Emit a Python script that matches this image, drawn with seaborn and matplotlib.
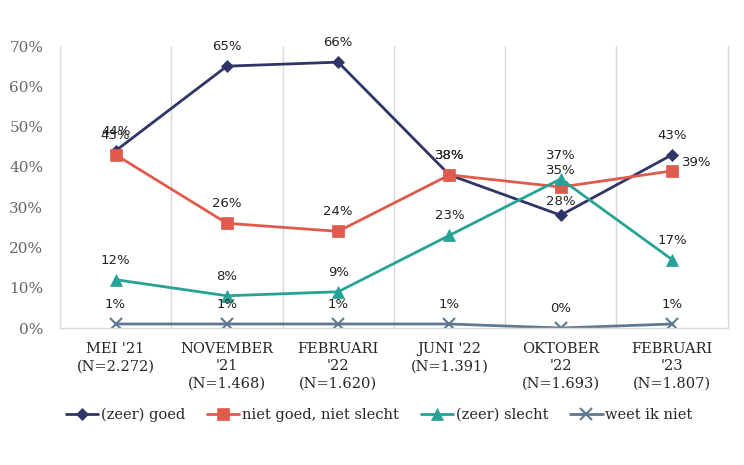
import pandas as pd
import matplotlib.pyplot as plt
import seaborn as sns

# waves of the survey
categories = ["MEI '21\n(N=2.272)", "NOVEMBER\n'21\n(N=1.468)", "FEBRUARI\n'22\n(N=1.620)",
              "JUNI '22\n(N=1.391)", "OKTOBER\n'22\n(N=1.693)", "FEBRUARI\n'23\n(N=1.807)"]
series_names = ["(zeer) goed", "niet goed, niet slecht", "(zeer) slecht", "weet ik niet"]
goed = [44, 65, 66, 38, 28, 43]
niet = [43, 26, 24, 38, 35, 39]
slecht = [12, 8, 9, 23, 37, 17]
weet = [1, 1, 1, 1, 0, 1]
y_ticks = [0, 10, 20, 30, 40, 50, 60, 70]

colors = ["#2F3566", "#E05B4C", "#27A396", "#5D7890"]
markers = ["D", "s", "^", "x"]
msizes = [6, 8, 8, 8]

rows = []
for name, vals in zip(series_names, [goed, niet, slecht, weet]):
    for i, v in enumerate(vals):
        rows.append({"pos": i, "serie": name, "waarde": v / 100})
df = pd.DataFrame(rows)

sns.set_style("white")
fig = plt.figure(figsize=(7.44, 4.65), dpi=100)
ax = fig.add_axes([0.0806, 0.2946, 0.8974, 0.6064])

for name, col, mk, ms in zip(series_names, colors, markers, msizes):
    sub = df[df["serie"] == name]
    sns.lineplot(data=sub, x="pos", y="waarde", ax=ax, color=col, marker=mk,
                 markersize=ms, markeredgecolor=col, markeredgewidth=1.5 if mk == "x" else 0.5,
                 linewidth=2, label=name)

# data labels (offset in points, default above)
offsets = {}
offsets[("(zeer) goed", 4)] = (0, 10)
offsets[("niet goed, niet slecht", 4)] = (0, 12)
offsets[("(zeer) slecht", 4)] = (0, 17)
offsets[("niet goed, niet slecht", 5)] = (18, 6)
for name, vals in zip(series_names, [goed, niet, slecht, weet]):
    for i, v in enumerate(vals):
        dx, dy = offsets.get((name, i), (0, 14))
        ax.annotate(f"{v}%", (i, v / 100), xytext=(dx, dy), textcoords="offset points",
                    ha="center", va="center", fontsize=9.5, color="#222222",
                    family="DejaVu Sans")

ax.set_xlim(-0.5, 5.5)
ax.set_ylim(0, 0.7)
ax.set_yticks([t / 100 for t in y_ticks])
ax.set_yticklabels([f"{t}%" for t in y_ticks], family="DejaVu Serif", fontsize=11, color="#666666")
ax.set_xticks(range(len(categories)))
ax.set_xticklabels(categories, family="DejaVu Serif", fontsize=10.5, color="#262626",
                   linespacing=1.3, va="top")
ax.tick_params(axis="both", length=0)
ax.tick_params(axis="x", pad=10)
ax.tick_params(axis="y", pad=12)
ax.set_xlabel("")
ax.set_ylabel("")

# category boundaries as vertical gridlines
for b in range(1, len(categories)):
    ax.axvline(b - 0.5, color="#D9D9D9", linewidth=1, zorder=0)
for s in ["left", "right", "bottom"]:
    ax.spines[s].set_color("#D9D9D9")
    ax.spines[s].set_linewidth(1)
ax.spines["top"].set_visible(False)

handles, labels = ax.get_legend_handles_labels()
ax.legend_.remove()
fig.legend(handles, labels, loc="center", bbox_to_anchor=(0.51, 0.108), ncol=4,
           frameon=False, prop={"family": "DejaVu Serif", "size": 10.5},
           handlelength=2.2, handletextpad=0.2, columnspacing=1.5)

plt.savefig("out.png", dpi=100)
